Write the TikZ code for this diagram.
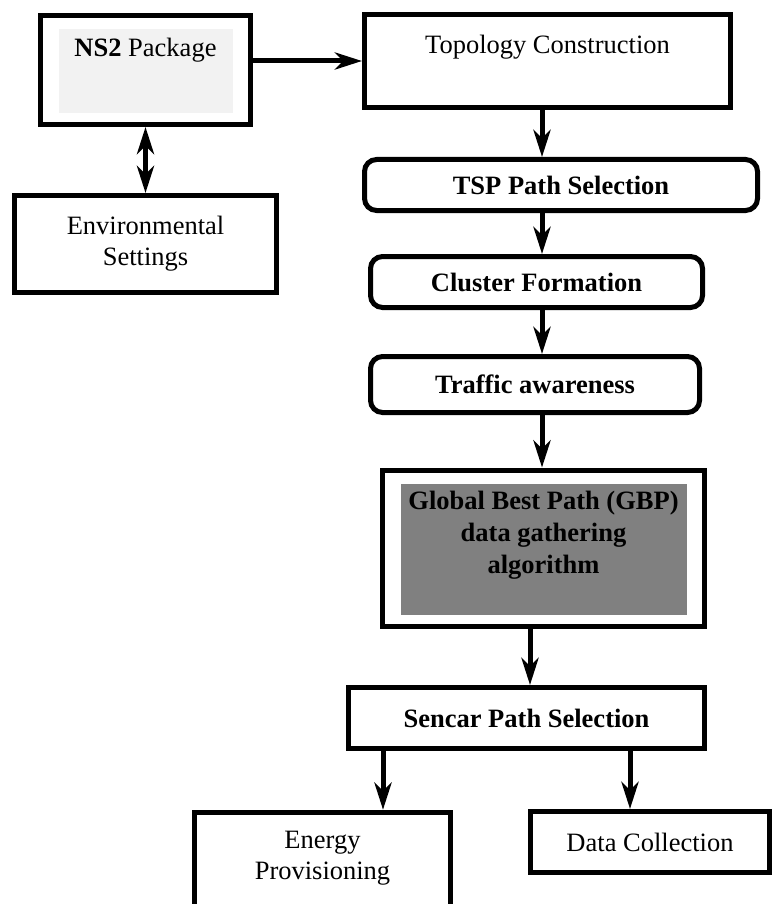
\documentclass[tikz,border=0pt]{standalone}
\usepackage{fontspec}
\setmainfont{Liberation Serif}
\usetikzlibrary{arrows.meta,positioning}
\definecolor{paleshade}{HTML}{F2F2F2}
\definecolor{darkshade}{HTML}{808080}
\tikzset{
>={Stealth[length=27pt,width=17pt,inset=8pt]}, % heavy arrow heads
box/.style={draw, line width=5pt, align=center, inner sep=2pt,
            font=\fontsize{26.5}{31}\selectfont},
roundbox/.style={box, rounded corners=12pt, font=\fontsize{26.5}{31}\selectfont\bfseries},
boldbox/.style={box, font=\fontsize{26.5}{32}\selectfont\bfseries},
toptext/.style={text height=18pt, text depth=#1}, % pushes a single line up
shaded/.style={path picture={\fill[#1]
    ([shift={(18.5pt,-13.5pt)}]path picture bounding box.north west) rectangle
    ([shift={(-17.5pt,11.5pt)}]path picture bounding box.south east);}},
arr/.style={line width=5pt, ->},
}

\begin{document}
\begin{tikzpicture}[x=1pt,y=-1pt,on grid]
   \useasboundingbox (0,0) rectangle (775,904);
   \node[box, shaded=paleshade, toptext=44pt, minimum width=210pt, minimum height=109pt] (ns2) at (145.5,70) {\textbf{NS2} Package};
   \node[box, minimum width=262pt, minimum height=97pt] (env) [below=174pt of ns2] {Environmental\\Settings};
   \node[box, toptext=32pt, minimum width=366pt, minimum height=93pt] (topo) at (547.5,61) {Topology Construction};
   \node[roundbox, minimum width=393pt, minimum height=51pt] (tsp) [below right=124pt and 13.5pt of topo] {TSP Path Selection};
   \node[roundbox, minimum width=332pt, minimum height=51pt] (cluster) [below left=97pt and 24.5pt of tsp] {Cluster Formation};
   \node[roundbox, minimum width=329pt, minimum height=56pt] (traffic) [below left=102.5pt and 1.5pt of cluster] {Traffic awareness};
   \node[boldbox, shaded=darkshade, minimum width=322pt, minimum height=156pt] (gbp) [below right=163.5pt and 8.5pt of traffic] {Global Best Path (GBP)\\data gathering\\algorithm\\~};
   \node[boldbox, minimum width=356pt, minimum height=61pt] (sencar) [below left=170pt and 17pt of gbp] {Sencar Path Selection};
   \node[box, minimum width=256pt, minimum height=117.5pt] (energy) [below left=153pt and 204pt of sencar] {Energy\\Provisioning\\~};
   \node[box, minimum width=239pt, minimum height=61pt] (datacol) [below right=124pt and 123.5pt of sencar] {Data Collection};

   \coordinate (spine) at (542,0);
   \coordinate (gbpdrop) at (530,0);
   \coordinate (leftdrop) at (383,0);
   \coordinate (rightdrop) at (630,0);

   \draw[arr] (ns2.east |- topo.west) -- (topo.west);
   \draw[arr, <->] (ns2.south) -- (env.north);
   \draw[arr] (topo.south -| spine) -- (tsp.north -| spine);
   \draw[arr] (tsp.south -| spine) -- (cluster.north -| spine);
   \draw[arr] (cluster.south -| spine) -- (traffic.north -| spine);
   \draw[arr] (traffic.south -| spine) -- (gbp.north -| spine);
   \draw[arr] (gbp.south -| gbpdrop) -- (sencar.north -| gbpdrop);
   \draw[arr] (sencar.south -| leftdrop) -- (energy.north -| leftdrop);
   \draw[arr] (sencar.south -| rightdrop) -- (datacol.north -| rightdrop);
\end{tikzpicture}
\end{document}
